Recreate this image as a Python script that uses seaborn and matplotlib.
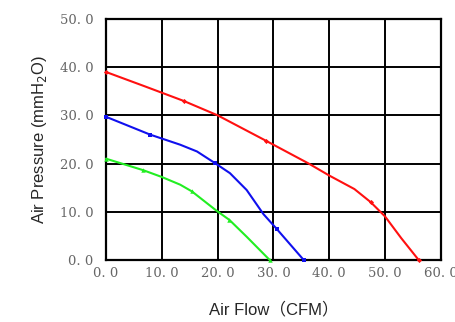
import matplotlib
matplotlib.use("Agg")
import matplotlib.pyplot as plt
import seaborn as sns

# Curve trace points
red_x = [0, 7, 13.9, 20, 28.7, 36.3, 40, 44.5, 47.4, 50, 52.9, 56]
red_y = [39.0, 36.0, 33.0, 30.0, 24.7, 20.0, 17.5, 14.7, 12.0, 9.0, 4.5, 0.0]
blue_x = [0, 7.9, 13.3, 16.3, 19.5, 22.2, 25.2, 28.2, 30.6, 35.4]
blue_y = [29.7, 26.0, 23.9, 22.5, 20.1, 18.0, 14.5, 9.5, 6.4, 0.0]
green_x = [0, 6.7, 10, 13.3, 15.4, 19.8, 22.1, 25.2, 29.3]
green_y = [21.0, 18.6, 17.2, 15.6, 14.2, 10.2, 8.3, 4.8, 0.0]

# Marker points
red_mx = [0, 13.9, 28.7, 47.4, 56]
red_my = [39.0, 33.0, 24.7, 12.0, 0.0]
blue_mx = [0, 7.9, 19.5, 30.6, 35.4]
blue_my = [29.7, 26.0, 20.1, 6.4, 0.0]
green_mx = [0, 6.7, 15.4, 22.1, 29.3]
green_my = [21.0, 18.6, 14.2, 8.3, 0.0]

x_ticks = [0, 10, 20, 30, 40, 50, 60]
y_ticks = [0, 10, 20, 30, 40, 50]
x_labels = ["0. 0", "10. 0", "20. 0", "30. 0", "40. 0", "50. 0", "60. 0"]
y_labels = ["0. 0", "10. 0", "20. 0", "30. 0", "40. 0", "50. 0"]

sns.set_style("white")
fig = plt.figure(figsize=(4.55, 3.22), dpi=100)
ax = fig.add_axes([0.233, 0.193, 0.736, 0.748])

series = [
    (red_x, red_y, red_mx, red_my, "#ff1010", "D", 2.6),
    (blue_x, blue_y, blue_mx, blue_my, "#1010ee", "s", 3.2),
    (green_x, green_y, green_mx, green_my, "#22ee22", "^", 3.2),
]
for lx, ly, mx, my, c, m, ms in series:
    sns.lineplot(x=lx, y=ly, ax=ax, color=c, lw=1.5, sort=False, estimator=None,
                 clip_on=False, zorder=3, solid_joinstyle="round")
    sns.lineplot(x=mx, y=my, ax=ax, color=c, lw=0, marker=m, markersize=ms,
                 markeredgewidth=0, sort=False, estimator=None, clip_on=False, zorder=4)

ax.set_xlim(0, 60)
ax.set_ylim(0, 50)
ax.set_xticks(x_ticks)
ax.set_yticks(y_ticks)
ax.set_xticklabels(x_labels, family="DejaVu Serif", fontsize=9.5, color="#666666")
ax.set_yticklabels(y_labels, family="DejaVu Serif", fontsize=9.5, color="#666666")
ax.tick_params(axis="y", length=0, pad=9)
ax.tick_params(axis="x", length=0, pad=5)
ax.grid(True, color="black", lw=1.4)
ax.set_axisbelow(True)
for s in ax.spines.values():
    s.set_color("black")
    s.set_linewidth(1.6)

ax.set_ylabel("Air Pressure (mmH$_2$O)", family=["Liberation Sans", "DejaVu Sans"], fontsize=12, labelpad=8)
ax.set_xlabel("Air Flow（CFM）", family=["Liberation Sans", "Noto Sans CJK SC"], fontsize=12, labelpad=16)

fig.savefig("out.png", dpi=100)
